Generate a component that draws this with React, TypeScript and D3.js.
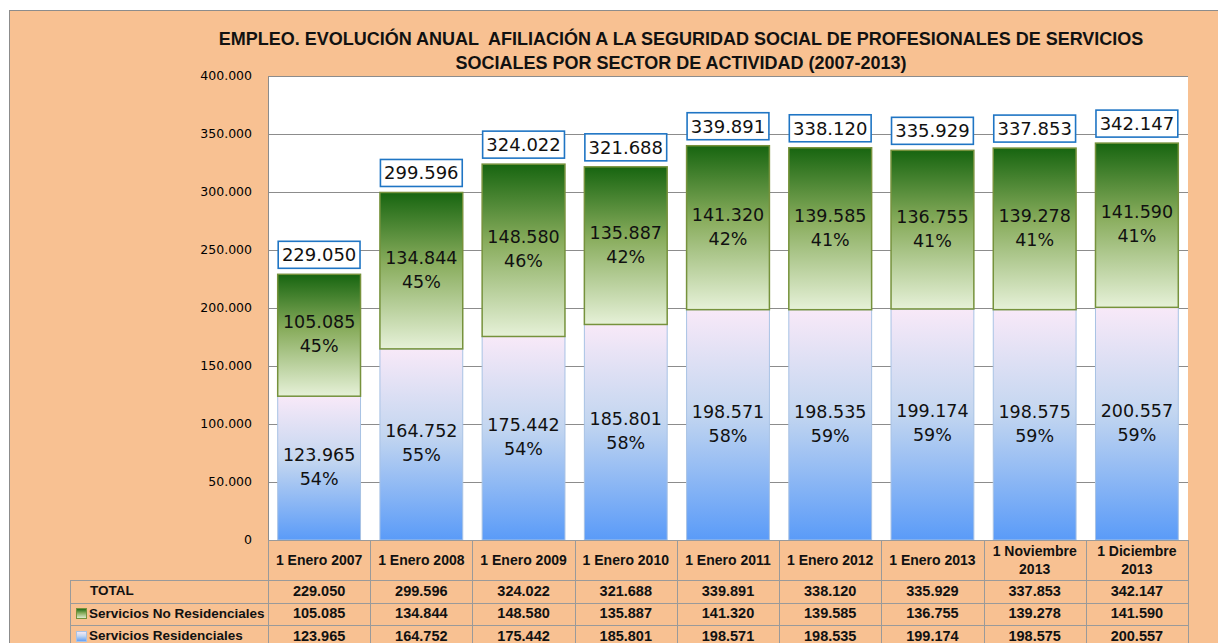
import { useEffect, useRef } from 'react';
import * as d3 from 'd3';

const categories = [
  '1 Enero 2007',
  '1 Enero 2008',
  '1 Enero 2009',
  '1 Enero 2010',
  '1 Enero 2011',
  '1 Enero 2012',
  '1 Enero 2013',
  '1 Noviembre 2013',
  '1 Diciembre 2013',
];
const noResidenciales = [105085, 134844, 148580, 135887, 141320, 139585, 136755, 139278, 141590];
const residenciales = [123965, 164752, 175442, 185801, 198571, 198535, 199174, 198575, 200557];
const totals = [229050, 299596, 324022, 321688, 339891, 338120, 335929, 337853, 342147];
const pctNoRes = [45, 45, 46, 42, 42, 41, 41, 41, 41];
const pctRes = [54, 55, 54, 58, 58, 59, 59, 59, 59];
const yTicks = [0, 50000, 100000, 150000, 200000, 250000, 300000, 350000, 400000];
const titleLines = [
  'EMPLEO. EVOLUCIÓN ANUAL  AFILIACIÓN A LA SEGURIDAD SOCIAL DE PROFESIONALES DE SERVICIOS',
  'SOCIALES POR SECTOR DE ACTIVIDAD (2007-2013)',
];
const seriesNames = ['TOTAL', 'Servicios No Residenciales', 'Servicios Residenciales'];

const es = d3.formatLocale({ decimal: ',', thousands: '.', grouping: [3], currency: ['', ''] });
const fmt = es.format(',d');

const App = () => {
  const svgRef = useRef(null);
  const width = 1218;
  const height = 643;
  const plot = { left: 268, right: 1188, top: 76, bottom: 540 };

  useEffect(() => {
    document.body.style.margin = '0';
    document.body.style.overflow = 'hidden';
    const svg = d3.select(svgRef.current);
    svg.selectAll('*').remove();

    const defs = svg.append('defs');
    const gGreen = defs.append('linearGradient').attr('id', 'gGreen').attr('x1', 0).attr('y1', 0).attr('x2', 0).attr('y2', 1);
    gGreen.append('stop').attr('offset', '0%').attr('stop-color', '#176510');
    gGreen.append('stop').attr('offset', '45%').attr('stop-color', '#88ac5c');
    gGreen.append('stop').attr('offset', '100%').attr('stop-color', '#e6f1d8');
    const gBlue = defs.append('linearGradient').attr('id', 'gBlue').attr('x1', 0).attr('y1', 0).attr('x2', 0).attr('y2', 1);
    gBlue.append('stop').attr('offset', '0%').attr('stop-color', '#f8e9f8');
    gBlue.append('stop').attr('offset', '45%').attr('stop-color', '#c3d6f0');
    gBlue.append('stop').attr('offset', '100%').attr('stop-color', '#5a9bf8');

    // background frame
    svg.append('rect').attr('x', 0).attr('y', 0).attr('width', width).attr('height', height).attr('fill', '#ffffff');
    svg.append('rect')
      .attr('x', 9.5).attr('y', 10.5).attr('width', width).attr('height', height)
      .attr('fill', '#f8c192').attr('stroke', '#8c8c8c');

    const x = d3.scaleBand().domain(categories).range([plot.left, plot.right]).paddingInner(0.18).paddingOuter(0.09);
    const col = d3.scaleBand().domain(categories).range([plot.left, plot.right]);
    const y = d3.scaleLinear().domain([0, 400000]).range([plot.bottom, plot.top]);

    svg.append('rect')
      .attr('x', plot.left).attr('y', plot.top)
      .attr('width', plot.right - plot.left).attr('height', plot.bottom - plot.top)
      .attr('fill', '#ffffff');

    // gridlines
    svg.append('g').selectAll('line')
      .data(yTicks.filter(d => d > 0))
      .join('line')
      .attr('x1', plot.left).attr('x2', plot.right)
      .attr('y1', d => Math.round(y(d)) + 0.5).attr('y2', d => Math.round(y(d)) + 0.5)
      .attr('stroke', '#8c8c8c');

    svg.append('line')
      .attr('x1', plot.left + 0.5).attr('x2', plot.left + 0.5)
      .attr('y1', plot.top).attr('y2', plot.bottom)
      .attr('stroke', '#8c8c8c');

    // y labels
    svg.append('g').selectAll('text')
      .data(yTicks)
      .join('text')
      .attr('x', 252).attr('y', d => y(d))
      .attr('dy', '0.35em')
      .attr('text-anchor', 'end')
      .style('font-family', 'DejaVu Sans')
      .style('font-size', '12.5px')
      .text(d => fmt(d));

    const bars = svg.append('g');
    const idx = categories.map((_, i) => i);

    // residential (bottom)
    bars.selectAll('rect.res')
      .data(idx)
      .join('rect')
      .attr('class', 'res')
      .attr('x', i => x(categories[i]) + 0.5)
      .attr('width', x.bandwidth() - 1)
      .attr('y', i => y(residenciales[i]))
      .attr('height', i => y(0) - y(residenciales[i]))
      .attr('fill', 'url(#gBlue)')
      .attr('stroke', '#a8c2e4')
      .attr('stroke-width', 1);

    bars.selectAll('rect.nores')
      .data(idx)
      .join('rect')
      .attr('class', 'nores')
      .attr('x', i => x(categories[i]) + 0.5)
      .attr('width', x.bandwidth() - 1)
      .attr('y', i => y(residenciales[i] + noResidenciales[i]))
      .attr('height', i => y(residenciales[i]) - y(residenciales[i] + noResidenciales[i]))
      .attr('fill', 'url(#gGreen)')
      .attr('stroke', '#76923c')
      .attr('stroke-width', 1.5);

    const segLabel = (vals, pcts, base) => {
      const g = bars.append('g')
        .style('font-family', 'DejaVu Sans')
        .style('font-size', '17.5px')
        .attr('text-anchor', 'middle')
        .attr('fill', '#111');
      idx.forEach(i => {
        const top = y(base[i] + vals[i]);
        const bot = y(base[i]);
        const mid = (top + bot) / 2;
        const cx = x(categories[i]) + x.bandwidth() / 2;
        g.append('text').attr('x', cx).attr('y', mid - 7).text(fmt(vals[i]));
        g.append('text').attr('x', cx).attr('y', mid + 17).text(pcts[i] + '%');
      });
    };
    segLabel(residenciales, pctRes, idx.map(() => 0));
    segLabel(noResidenciales, pctNoRes, residenciales);

    // total boxes
    const tg = svg.append('g');
    idx.forEach(i => {
      const top = y(totals[i]);
      const bx = x(categories[i]);
      tg.append('rect')
        .attr('x', bx + 1).attr('y', top - 33)
        .attr('width', x.bandwidth() - 2).attr('height', 27)
        .attr('fill', '#ffffff').attr('stroke', '#1f75c4').attr('stroke-width', 1.6);
      tg.append('text')
        .attr('x', bx + x.bandwidth() / 2).attr('y', top - 13)
        .attr('text-anchor', 'middle')
        .style('font-family', 'DejaVu Sans')
        .style('font-size', '18px')
        .attr('fill', '#111')
        .text(fmt(totals[i]));
    });

    // title
    svg.append('g').selectAll('text')
      .data(titleLines)
      .join('text')
      .attr('x', 681).attr('y', (d, i) => 45 + i * 24)
      .attr('text-anchor', 'middle')
      .style('font-family', 'Liberation Sans')
      .style('font-weight', 'bold')
      .style('font-size', '18px')
      .style('white-space', 'pre')
      .attr('fill', '#111')
      .text(d => d);

    // data table
    const tb = svg.append('g');
    const lineColor = '#9a9a9a';
    const rowY = [580, 603, 625, 648];
    const tableLeft = 70;
    tb.append('line').attr('x1', plot.left).attr('x2', plot.right).attr('y1', plot.bottom + 0.5).attr('y2', plot.bottom + 0.5).attr('stroke', lineColor);
    rowY.slice(0, 3).forEach(ry => {
      tb.append('line').attr('x1', tableLeft).attr('x2', plot.right).attr('y1', ry + 0.5).attr('y2', ry + 0.5).attr('stroke', lineColor);
    });
    tb.append('line').attr('x1', tableLeft + 0.5).attr('x2', tableLeft + 0.5).attr('y1', 580).attr('y2', height).attr('stroke', lineColor);
    [...categories.map(c => col(c)), plot.right].forEach(cx => {
      tb.append('line').attr('x1', Math.round(cx) + 0.5).attr('x2', Math.round(cx) + 0.5).attr('y1', plot.bottom).attr('y2', height).attr('stroke', lineColor);
    });

    // category headers
    categories.forEach(c => {
      const cx = col(c) + col.bandwidth() / 2;
      const lines = c.length > 14 ? [c.slice(0, c.lastIndexOf(' ')), c.slice(c.lastIndexOf(' ') + 1)] : [c];
      lines.forEach((l, j) => {
        tb.append('text')
          .attr('x', cx)
          .attr('y', 560 + (j - (lines.length - 1) / 2) * 18)
          .attr('dy', '0.35em')
          .attr('text-anchor', 'middle')
          .style('font-family', 'Liberation Sans')
          .style('font-weight', 'bold')
          .style('font-size', '14px')
          .attr('fill', '#111')
          .text(l);
      });
    });

    const rows = [totals, noResidenciales, residenciales];
    rows.forEach((vals, r) => {
      const cy = (rowY[r] + rowY[r + 1]) / 2 - 1;
      tb.append('text')
        .attr('x', r === 0 ? 90 : 89).attr('y', cy).attr('dy', '0.35em')
        .style('font-family', 'Liberation Sans')
        .style('font-weight', 'bold')
        .style('font-size', '13.5px')
        .attr('fill', '#111')
        .text(seriesNames[r]);
      vals.forEach((v, i) => {
        tb.append('text')
          .attr('x', col(categories[i]) + col.bandwidth() / 2).attr('y', cy).attr('dy', '0.35em')
          .attr('text-anchor', 'middle')
          .style('font-family', 'Liberation Sans')
          .style('font-weight', 'bold')
          .style('font-size', '14.5px')
          .attr('fill', '#111')
          .text(fmt(v));
      });
    });
    // legend keys
    tb.append('rect').attr('x', 76.5).attr('y', 608.5).attr('width', 10).attr('height', 10).attr('fill', 'url(#gGreen)').attr('stroke', '#76923c');
    tb.append('rect').attr('x', 76.5).attr('y', 631.5).attr('width', 10).attr('height', 10).attr('fill', 'url(#gBlue)').attr('stroke', '#a8c2e4');
  }, []);

  return (
    <div>
      <svg ref={svgRef} width={width} height={height} style={{ display: 'block' }}></svg>
    </div>
  );
};

export default App;
